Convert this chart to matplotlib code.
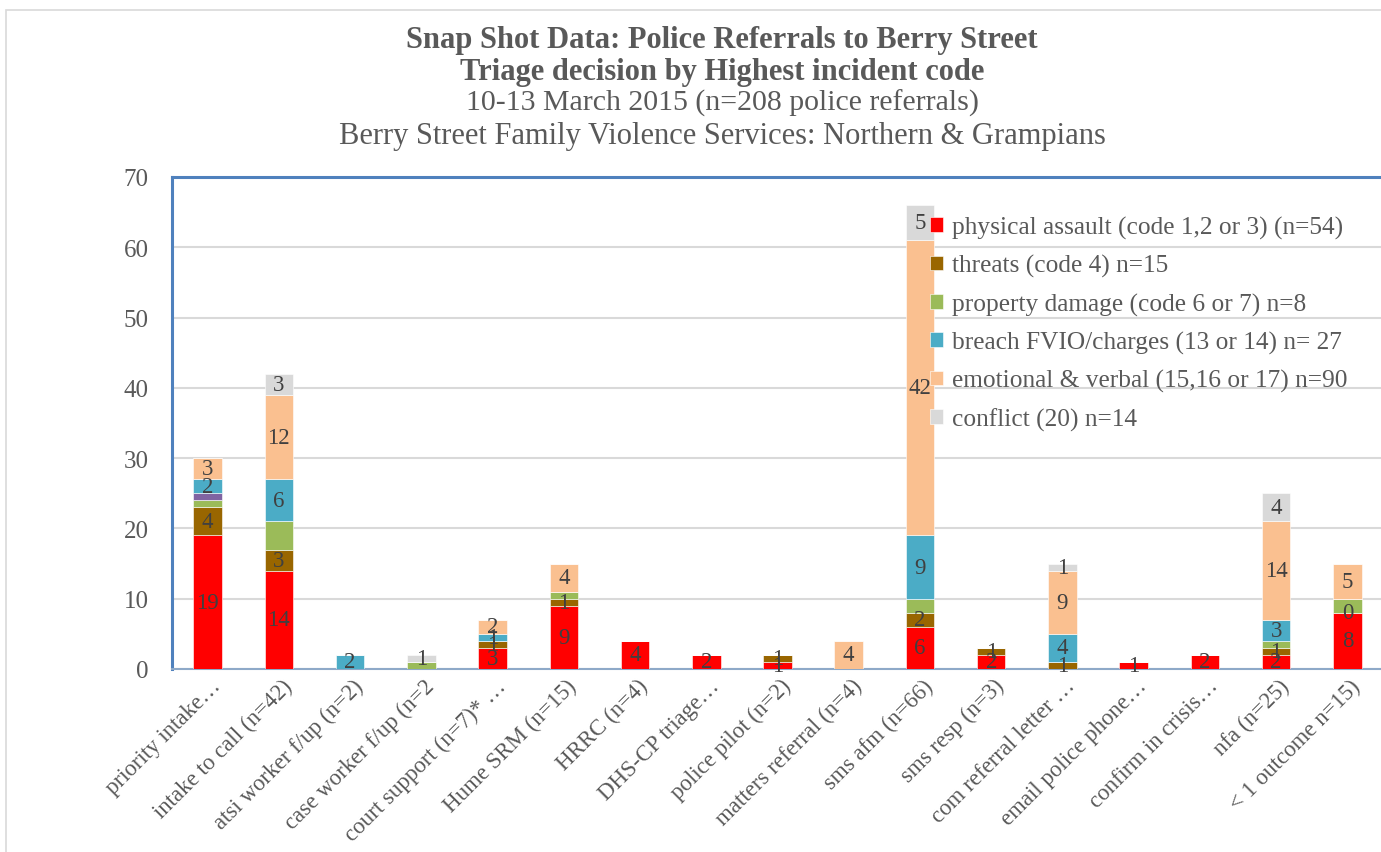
import matplotlib
matplotlib.use("Agg")
import matplotlib.pyplot as plt
import matplotlib.transforms as mtransforms
from matplotlib.patches import Rectangle

plt.rcParams['font.family'] = ['Liberation Serif', 'DejaVu Serif']

# Data (None = no segment)
categories = ['priority intake…', 'intake to call (n=42)', 'atsi worker f/up (n=2)',
              'case worker f/up (n=2', 'court support (n=7)* …', 'Hume SRM (n=15)',
              'HRRC (n=4)', 'DHS-CP triage…', 'police pilot (n=2)',
              'matters referral (n=4)', 'sms afm (n=66)', 'sms resp (n=3)',
              'com referral letter …', 'email police phone…', 'confirm in crisis…',
              'nfa (n=25)', '< 1 outcome n=15)']

physical = [19, 14, None, None, 3, 9, 4, 2, 1, None, 6, 2, None, 1, 2, 2, 8]
threats = [4, 3, None, None, 1, 1, None, None, 1, None, 2, 1, 1, None, None, 1, 0]
property_dmg = [1, 4, None, 1, None, 1, None, None, None, None, 2, None, None, None, None, 1, 2]
other = [1, None, None, None, None, None, None, None, None, None, None, None, None, None, None, None, None]
breach = [2, 6, 2, None, 1, None, None, None, None, None, 9, None, 4, None, None, 3, None]
emotional = [3, 12, None, None, 2, 4, None, None, None, 4, 42, None, 9, None, None, 14, 5]
conflict = [None, 3, None, 1, None, None, None, None, None, None, 5, None, 1, None, None, 4, None]

series = [
    (physical, 'physical assault (code 1,2 or 3) (n=54)', '#FF0000', True),
    (threats, 'threats (code 4) n=15', '#996600', True),
    (property_dmg, 'property damage (code 6 or 7) n=8', '#9BBB59', False),
    (other, '_nolegend_', '#8064A2', False),
    (breach, 'breach FVIO/charges (13 or 14) n= 27', '#4BACC6', True),
    (emotional, 'emotional & verbal (15,16 or 17) n=90', '#FAC090', True),
    (conflict, 'conflict (20) n=14', '#D9D9D9', True),
]

W, H = 1381, 853
fig = plt.figure(figsize=(W / 100, H / 100), dpi=100)
ax = fig.add_axes([172 / W, (H - 670) / H, (1383 - 172) / W, (670 - 178) / H])

text_col = '#595959'
x = list(range(len(categories)))
bottom = [0] * len(categories)
for vals, label, color, show in series:
    v = [0 if a is None else a for a in vals]
    ax.bar(x, v, width=0.40, bottom=bottom, color=color,
           edgecolor='white', linewidth=0.4, label=label, zorder=3)
    if show:
        for i, a in enumerate(vals):
            if a is None:
                continue
            ax.text(i, bottom[i] + a / 2, str(a), ha='center', va='center',
                    fontsize=16.5, color='#404040', zorder=5)
    bottom = [b + c for b, c in zip(bottom, v)]

ax.set_xlim(-0.5, 16.5)
ax.set_ylim(0, 70)
ax.set_yticks(range(0, 71, 10))
ax.grid(axis='y', color='#D9D9D9', linewidth=1.5, zorder=0)
ax.set_axisbelow(True)
ax.tick_params(axis='y', length=0, pad=17, labelsize=18, labelcolor=text_col)
ax.tick_params(axis='x', length=0, pad=4, labelsize=16.5, labelcolor=text_col)
ax.set_xticks(x)
ax.set_xticklabels(categories, rotation=45, ha='right', va='center',
                   rotation_mode='anchor')
offset = mtransforms.ScaledTranslation(10 / 100, -8 / 100, fig.dpi_scale_trans)
for lab in ax.get_xticklabels():
    lab.set_transform(lab.get_transform() + offset)

for s in ['left', 'top']:
    ax.spines[s].set_color('#4F81BD')
    ax.spines[s].set_linewidth(2.2)
ax.spines['right'].set_visible(False)
ax.spines['bottom'].set_color('#8EA9C8')
ax.spines['bottom'].set_linewidth(1.5)

leg = ax.legend(loc='upper left', bbox_to_anchor=(930 / W, (H - 217) / H),
                bbox_transform=fig.transFigure, frameon=False, fontsize=18.3,
                handlelength=0.5, handleheight=0.5, handletextpad=0.35,
                labelspacing=0.6, borderpad=0, borderaxespad=0)
for t in leg.get_texts():
    t.set_color(text_col)

# title block
tx = 722 / W
fig.text(tx, 1 - 48 / H, 'Snap Shot Data: Police Referrals to Berry Street',
         ha='center', va='baseline', fontsize=22, fontweight='bold', color=text_col)
fig.text(tx, 1 - 80 / H, 'Triage decision by Highest incident code',
         ha='center', va='baseline', fontsize=22, fontweight='bold', color=text_col)
fig.text(tx, 1 - 111 / H, '10-13 March 2015 (n=208 police referrals)',
         ha='center', va='baseline', fontsize=21.5, color=text_col)
fig.text(tx, 1 - 144 / H, 'Berry Street Family Violence Services: Northern & Grampians',
         ha='center', va='baseline', fontsize=22, color=text_col)

# chart area border
fig.patches.append(Rectangle((6 / W, -0.1), 1.2, 1 - 11 / H + 0.1,
                             transform=fig.transFigure, fill=False,
                             edgecolor='#D9D9D9', linewidth=1.2))

fig.savefig('out.png', dpi=100)
